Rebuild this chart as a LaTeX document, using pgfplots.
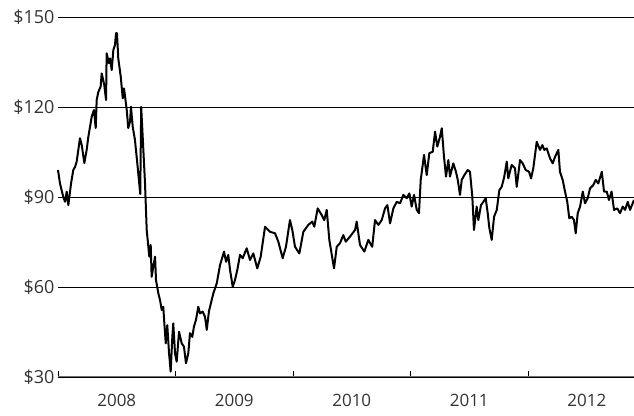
\documentclass[border=0pt]{standalone}
\usepackage{fontspec}
\setmainfont{Open Sans}
\usepackage{pgfplots}
\pgfplotsset{compat=1.18}
\definecolor{txt}{HTML}{333333}
\definecolor{gridgray}{HTML}{707070}
\begin{document}
\begin{tikzpicture}
\begin{axis}[
  scale only axis,
  width=576pt, height=360pt,
  xmin=0, xmax=4.902, ymin=30, ymax=150,
  axis x line*=bottom, axis y line*=left,
  x axis line style={draw=gridgray, line width=1.1pt},
  y axis line style={draw=none},
  tick align=inside,
  xtick={0.5,1.5,2.5,3.5,4.5},
  xticklabels={2008,2009,2010,2011,2012},
  minor xtick={0,1,2,3,4},
  major tick length=0pt,
  minor tick length=6pt,
  minor tick style={draw=black, line width=0.8pt},
  xticklabel style={yshift=-14pt},
  ytick={60,90},
  yticklabels={\$60,\$90},
  extra y ticks={30,120,150},
  extra y tick labels={\$30,\$120,\$150},
  ymajorgrids,
  major grid style={draw=black, line width=0.9pt},
  extra y tick style={grid style={draw=gridgray, line width=1.1pt}},
  ytick style={draw=none},
  tick label style={font=\fontsize{17}{20}\selectfont, text=txt},
  yticklabel style={font=\fontsize{18}{20}\selectfont},
  clip=false,
]
\addplot[black, line width=2pt, line join=round] coordinates {
(0.000,99) (0.017,94.5) (0.045,90) (0.060,88.4) (0.074,91.8) (0.088,87.3)
(0.111,94.5) (0.130,99) (0.145,100) (0.159,101.8) (0.187,109.6) (0.202,107.3)
(0.224,101.3) (0.244,105.7) (0.258,110) (0.287,116.8) (0.306,119) (0.321,113)
(0.329,122.3) (0.343,125) (0.363,126.8) (0.372,131.2) (0.394,127.3) (0.409,122.3)
(0.414,137.9) (0.434,134.6) (0.443,136.2) (0.457,132.3) (0.471,139) (0.485,140.7)
(0.494,144.6) (0.502,144.6) (0.513,136.2) (0.534,130.1) (0.551,122.9) (0.562,126.2)
(0.585,119) (0.598,113) (0.613,115.1) (0.621,120.1) (0.636,113.4) (0.655,109)
(0.675,101.2) (0.700,91.0) (0.708,120.0) (0.726,106) (0.740,95) (0.755,79)
(0.777,70.1) (0.789,74) (0.797,63.4) (0.811,66.8) (0.826,70.1) (0.834,62.3)
(0.854,57.9) (0.868,55.7) (0.883,52.3) (0.896,53.4) (0.905,47.9) (0.917,41.2)
(0.930,47.3) (0.945,37.9) (0.959,31.8) (0.973,43.4) (0.981,47.9) (0.996,37.9)
(1.010,35.1) (1.030,45.1) (1.053,41.2) (1.072,40.1) (1.089,34.6) (1.109,37.9)
(1.123,44.6) (1.143,43.4) (1.157,46.8) (1.174,49) (1.194,53.4) (1.209,51.2)
(1.231,51.8) (1.251,50.1) (1.266,45.7) (1.285,52) (1.294,53.4) (1.322,57.9)
(1.351,61.2) (1.379,67.3) (1.413,71.8) (1.430,68.4) (1.449,70.7) (1.464,65.7)
(1.487,60.1) (1.506,62.3) (1.526,65.7) (1.549,70.7) (1.572,69.6) (1.606,72.9)
(1.634,69) (1.662,71.2) (1.696,66.2) (1.725,70.1) (1.762,80.1) (1.804,78.4)
(1.847,77.9) (1.875,75.1) (1.912,69.6) (1.940,73.4) (1.974,82.3) (1.994,79)
(2.017,73.4) (2.054,71.2) (2.088,78.4) (2.130,80.7) (2.164,81.8) (2.181,80.1)
(2.210,86.2) (2.244,84) (2.266,82.3) (2.287,85.7) (2.309,75.7) (2.349,66.2)
(2.372,73.4) (2.400,74.6) (2.428,77.3) (2.449,75.1) (2.485,76.8) (2.528,79)
(2.542,81.8) (2.570,74) (2.607,71.8) (2.641,75.7) (2.674,73.4) (2.698,82.3)
(2.726,80.7) (2.755,82.3) (2.783,86.2) (2.803,87.3) (2.826,81.2) (2.854,86.2)
(2.883,88.4) (2.911,87.9) (2.939,90.7) (2.968,89.6) (2.990,91.2) (3.010,86.8)
(3.030,90.7) (3.053,85.7) (3.072,84.6) (3.087,95.7) (3.115,104) (3.138,97.3)
(3.160,104.6) (3.189,105.1) (3.209,111.8) (3.228,106.8) (3.251,110.1) (3.266,112.9)
(3.285,103.4) (3.302,96.8) (3.322,102.3) (3.336,96.8) (3.364,101.2) (3.387,98.4)
(3.402,95.7) (3.421,90.7) (3.436,95.7) (3.458,97.3) (3.487,99) (3.506,98.4)
(3.526,90.1) (3.540,79) (3.563,86.8) (3.577,82.3) (3.600,87.3) (3.620,88.4)
(3.640,89.6) (3.657,84.6) (3.671,79.6) (3.691,75.7) (3.711,83.4) (3.734,85.7)
(3.756,92.3) (3.776,93.4) (3.798,96.8) (3.819,101.8) (3.832,96.2) (3.861,100.7)
(3.889,99.6) (3.904,93.4) (3.932,102.3) (3.955,101.2) (3.980,99) (4.009,98.4)
(4.026,96.2) (4.045,99.6) (4.074,108.4) (4.102,105.7) (4.122,107.3) (4.139,105.7)
(4.159,106.2) (4.187,102.9) (4.210,101.2) (4.230,103.4) (4.258,105.7) (4.272,98.4)
(4.295,95.7) (4.315,91.8) (4.334,88.4) (4.351,82.9) (4.372,83.4) (4.391,82.3)
(4.406,77.9) (4.423,84.6) (4.443,86.8) (4.466,91.8) (4.485,87.9) (4.508,89.6)
(4.528,92.9) (4.556,94) (4.576,95.7) (4.598,94.5) (4.628,98.4) (4.647,91.8)
(4.670,91.8) (4.689,89) (4.711,91.8) (4.732,85.7) (4.760,86.2) (4.783,84.6)
(4.806,86.8) (4.826,85.7) (4.849,88.4) (4.868,85.7) (4.902,89)
};
\coordinate (SW) at (rel axis cs:0,0);
\end{axis}
\pgfresetboundingbox
\path ([xshift=-58pt,yshift=-38pt]SW) rectangle ++(634pt,415pt);
\end{tikzpicture}
\end{document}
